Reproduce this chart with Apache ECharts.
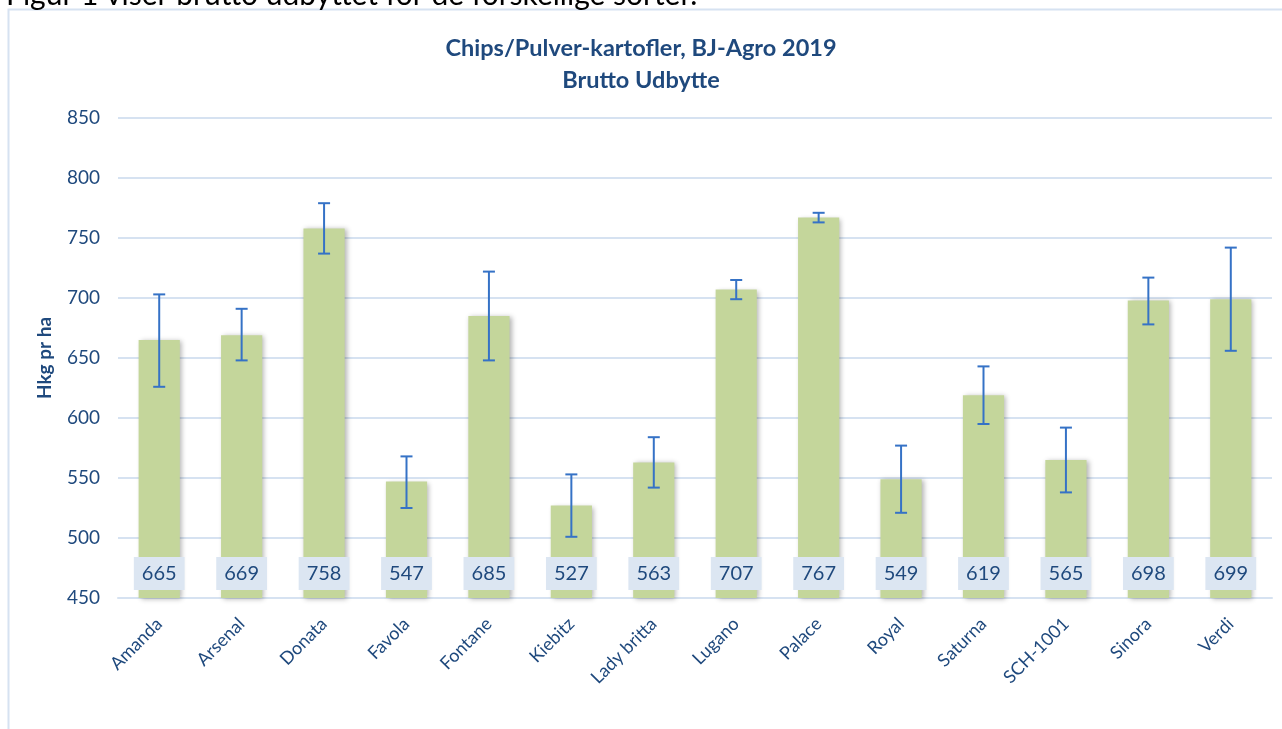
<!DOCTYPE html>
<html lang="da">
<head>
    <meta charset="UTF-8">
    <title>Brutto Udbytte</title>
    <script src="https://cdn.jsdelivr.net/npm/echarts@6/dist/echarts.min.js"></script>
    <style>
        html, body { margin: 0; padding: 0; background: #fff; }
    </style>
</head>
<body>
    <div id="chart" style="width: 1282px;height: 729px"></div>
<script>
    // sorter og udbytte (Hkg pr ha)
    var categories = ['Amanda', 'Arsenal', 'Donata', 'Favola', 'Fontane', 'Kiebitz', 'Lady britta',
        'Lugano', 'Palace', 'Royal', 'Saturna', 'SCH-1001', 'Sinora', 'Verdi'];
    var values = [665, 669, 758, 547, 685, 527, 563, 707, 767, 549, 619, 565, 698, 699];
    // fejlstreger
    var errHigh = [703, 691, 779, 568, 722, 553, 584, 715, 771, 577, 643, 592, 717, 742];
    var errLow = [626, 648, 737, 525, 648, 501, 542, 699, 763, 521, 595, 538, 678, 656];
    var yTicks = [450, 500, 550, 600, 650, 700, 750, 800, 850];

    var font = 'Lato, "Open Sans", sans-serif';
    var dark = '#1f497d';

    var errData = categories.map(function (c, i) {
        return [i, errLow[i], errHigh[i]];
    });

    var chart = echarts.init(document.getElementById('chart'));
    var option = {
        animation: false,
        textStyle: { fontFamily: font },
        title: {
            text: 'Chips/Pulver-kartofler, BJ-Agro 2019\nBrutto Udbytte',
            left: 'center',
            top: 27,
            textStyle: {
                color: dark,
                fontSize: 23.5,
                fontWeight: 'bold',
                lineHeight: 32,
                fontFamily: font
            }
        },
        graphic: [
            { // ramme om figuren
                type: 'rect',
                shape: { x: 8.5, y: 9.5, width: 1290, height: 740 },
                style: { fill: 'none', stroke: '#d6e2f1', lineWidth: 2 },
                silent: true
            },
            { // afskåret tekst over figuren
                type: 'text',
                left: 6,
                top: -20,
                style: {
                    text: 'Figur 1 viser brutto udbyttet for de forskellige sorter.',
                    fontSize: 30,
                    fill: '#000',
                    fontFamily: font
                },
                silent: true
            }
        ],
        grid: {
            left: 118,
            right: 10,
            top: 118,
            bottom: 131
        },
        xAxis: {
            type: 'category',
            data: categories,
            axisLine: { lineStyle: { color: '#d6e2f1', width: 2 } },
            axisTick: { show: false },
            axisLabel: {
                rotate: 45,
                color: dark,
                fontSize: 18,
                margin: 23,
                interval: 0
            }
        },
        yAxis: {
            type: 'value',
            min: yTicks[0],
            max: yTicks[yTicks.length - 1],
            interval: 50,
            name: 'Hkg pr ha',
            nameLocation: 'middle',
            nameGap: 64,
            nameTextStyle: { color: dark, fontSize: 19, fontWeight: 'bold' },
            axisLine: { show: false },
            axisTick: { show: false },
            axisLabel: { color: dark, fontSize: 19, margin: 18 },
            splitLine: { lineStyle: { color: '#d6e2f1', width: 2 } }
        },
        series: [
            {
                name: 'Brutto udbytte',
                type: 'bar',
                data: values,
                barWidth: '50%',
                itemStyle: {
                    color: '#c4d69b',
                    shadowBlur: 5,
                    shadowColor: 'rgba(0,0,0,0.3)',
                    shadowOffsetX: 2,
                    shadowOffsetY: 1
                },
                label: {
                    show: true,
                    position: 'insideBottom',
                    distance: 8,
                    color: dark,
                    fontSize: 20,
                    backgroundColor: '#dce6f2',
                    padding: [7, 8, 6, 8]
                },
                z: 2
            },
            {
                name: 'Fejl',
                type: 'custom',
                data: errData,
                z: 3,
                renderItem: function (params, api) {
                    var x = api.value(0);
                    var lo = api.coord([x, api.value(1)]);
                    var hi = api.coord([x, api.value(2)]);
                    var w = 6;
                    var st = { stroke: '#3572c6', lineWidth: 2 };
                    return {
                        type: 'group',
                        children: [
                            { type: 'line', shape: { x1: hi[0], y1: hi[1], x2: lo[0], y2: lo[1] }, style: st },
                            { type: 'line', shape: { x1: hi[0] - w, y1: hi[1], x2: hi[0] + w, y2: hi[1] }, style: st },
                            { type: 'line', shape: { x1: lo[0] - w, y1: lo[1], x2: lo[0] + w, y2: lo[1] }, style: st }
                        ]
                    };
                }
            }
        ]
    };
    chart.setOption(option);
</script>
</body>
</html>
